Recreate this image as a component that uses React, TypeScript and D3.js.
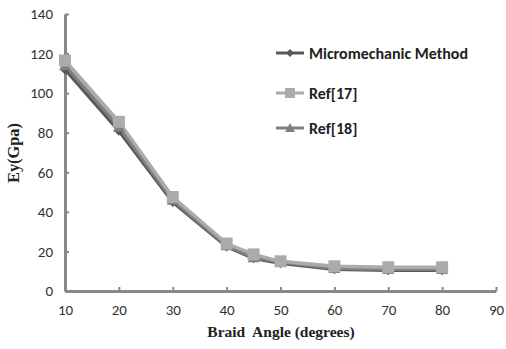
import React, {useEffect, useRef} from "react";
import * as d3 from "d3";

const angles = [10, 20, 30, 40, 45, 50, 60, 70, 80];
const micromechanic = [112, 81, 45, 22.5, 16.5, 14, 11, 10.5, 10.5];
const ref17 = [116.5, 85.5, 47.5, 24, 18.5, 15, 12.5, 12, 12];
const ref18 = [114, 83, 46, 23, 17, 14.5, 11.5, 11, 11];
const xTicks = [10, 20, 30, 40, 50, 60, 70, 80, 90];
const yTicks = [0, 20, 40, 60, 80, 100, 120, 140];

const seriesList = [
    {name: "Micromechanic Method", values: micromechanic, color: "#585858", marker: "diamond"},
    {name: "Ref[17]", values: ref17, color: "#ababab", marker: "square"},
    {name: "Ref[18]", values: ref18, color: "#808080", marker: "triangle"},
];

const sans = "Carlito, Lato, 'Open Sans', 'DejaVu Sans', sans-serif";
const serif = "'Liberation Serif', 'DejaVu Serif', serif";

const App: React.FC = () => {
    const svgRef = useRef<SVGSVGElement | null>(null);

    useEffect(() => {
        if (!svgRef.current) return;
        const svg = d3.select(svgRef.current);
        svg.selectAll("*").remove();

        const margin = {top: 14, right: 9, bottom: 56, left: 65};
        const width = 506 - margin.left - margin.right;
        const height = 349 - margin.top - margin.bottom;

        const root = svg.append("g")
            .attr("transform", `translate(${margin.left},${margin.top})`);

        const x = d3.scaleLinear().domain([10, 90]).range([0, width - 1]);
        const y = d3.scaleLinear().domain([0, 140]).range([height - 2, 0]);

        // axes
        const xAxis = root.append("g")
            .attr("transform", `translate(0,${height - 2})`)
            .call(d3.axisBottom(x).tickValues(xTicks).tickSize(-4).tickPadding(13).tickSizeOuter(0));
        const yAxis = root.append("g")
            .call(d3.axisLeft(y).tickValues(yTicks).tickSize(-4).tickPadding(12).tickSizeOuter(0));

        [xAxis, yAxis].forEach(a => {
            a.select(".domain").attr("stroke", "#888").attr("stroke-width", 3);
            a.selectAll(".tick line").attr("stroke", "#888").attr("stroke-width", 2);
            a.selectAll(".tick text")
                .attr("fill", "#333")
                .style("font-family", sans)
                .style("font-size", "15px");
        });

        // lines
        const line = d3.line<number>()
            .x((_, i) => x(angles[i]))
            .y(d => y(d));

        const drawMarker = (g: any, type: string, cx: number, cy: number, color: string, s: number) => {
            if (type === "diamond") {
                g.append("path")
                    .attr("d", `M${cx},${cy - s}L${cx + s},${cy}L${cx},${cy + s}L${cx - s},${cy}Z`)
                    .attr("fill", color);
            } else if (type === "square") {
                g.append("rect")
                    .attr("x", cx - s).attr("y", cy - s)
                    .attr("width", 2 * s).attr("height", 2 * s)
                    .attr("fill", color);
            } else {
                g.append("path")
                    .attr("d", `M${cx},${cy - s}L${cx + s},${cy + s * 0.8}L${cx - s},${cy + s * 0.8}Z`)
                    .attr("fill", color);
            }
        };

        const order = [0, 2, 1];
        order.forEach(k => {
            const s = seriesList[k];
            root.append("path")
                .datum(s.values)
                .attr("d", line)
                .attr("fill", "none")
                .attr("stroke", s.color)
                .attr("stroke-width", 3.5);
        });
        order.forEach(k => {
            const s = seriesList[k];
            s.values.forEach((v, i) => {
                drawMarker(root, s.marker, x(angles[i]), y(v), s.color, s.marker === "diamond" ? 5 : 6);
            });
        });

        // legend
        const legend = svg.append("g");
        const rows = [53, 93, 128];
        seriesList.forEach((s, i) => {
            legend.append("line")
                .attr("x1", 276).attr("x2", 304)
                .attr("y1", rows[i]).attr("y2", rows[i])
                .attr("stroke", s.color).attr("stroke-width", 3);
            drawMarker(legend, s.marker, 290, rows[i], s.color, s.marker === "diamond" ? 4 : 5);
            legend.append("text")
                .attr("x", 309).attr("y", rows[i])
                .attr("dy", "0.35em")
                .attr("fill", "#222")
                .style("font-family", sans)
                .style("font-weight", "bold")
                .style("font-size", "16px")
                .text(s.name);
        });

        // axis titles
        svg.append("text")
            .attr("x", 281).attr("y", 337)
            .attr("text-anchor", "middle")
            .attr("fill", "#222")
            .style("font-family", serif)
            .style("font-weight", "bold")
            .style("font-size", "15.5px")
            .style("white-space", "pre")
            .text("Braid  Angle (degrees)");

        svg.append("text")
            .attr("transform", "translate(19,153) rotate(-90)")
            .attr("text-anchor", "middle")
            .attr("fill", "#222")
            .style("font-family", serif)
            .style("font-weight", "bold")
            .style("font-size", "16px")
            .attr("textLength", 60)
            .attr("lengthAdjust", "spacingAndGlyphs")
            .text("Ey(Gpa)");
    }, []);

    return (
        <svg ref={svgRef} width={506} height={349}
             style={{position: "absolute", left: 0, top: 0, background: "#fff"}}/>
    );
};

export default App;
